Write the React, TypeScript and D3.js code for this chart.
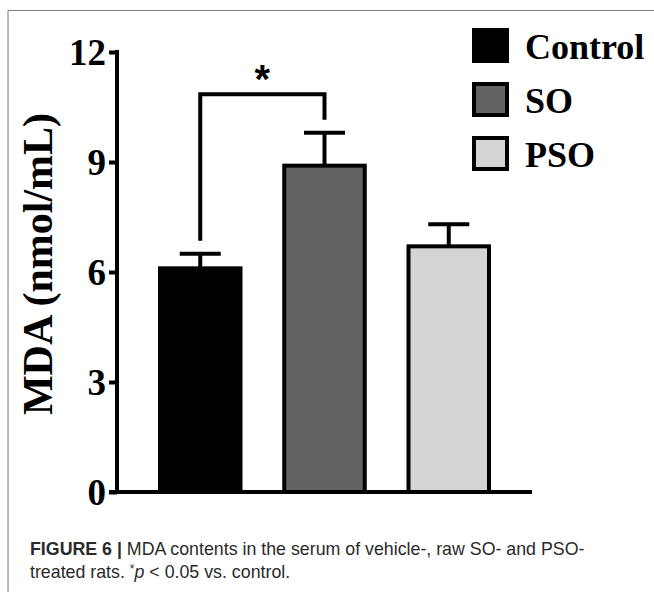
import React, { useRef, useEffect } from 'react';
import { select, scaleBand, scaleLinear, axisLeft } from 'd3';

const groups = ['Control', 'SO', 'PSO'];
const means = [6.1, 8.9, 6.7];
const upper = [6.5, 9.8, 7.3];
const fills = ['#000000', '#636363', '#d4d4d4'];
const yTicks = [0, 3, 6, 9, 12];
// significance bracket: Control vs SO, left foot / right foot / top
const bracket = { from: 0, to: 1, leftEnd: 6.85, rightEnd: 10.15, top: 10.85 };

const SERIF = '"Liberation Serif", "Times New Roman", serif';
const SANS = '"Liberation Sans", Arial, sans-serif';

const App = () => {
  const svgRef = useRef<SVGSVGElement>(null);

  useEffect(() => {
    const svg = select(svgRef.current);
    svg.selectAll('*').remove();

    const x = scaleBand().domain(groups).range([117, 532]).paddingInner(0.32).paddingOuter(0.33);
    const y = scaleLinear().domain([0, 12]).range([492, 52]);

    // frame of the figure (top + left only)
    svg.append('path')
      .attr('d', 'M8,592 V10.5 H654')
      .attr('fill', 'none')
      .attr('stroke', '#7a7a7a')
      .attr('stroke-width', 1);

    // bars
    svg.selectAll('.bar')
      .data(groups)
      .join('rect')
      .attr('class', 'bar')
      .attr('x', d => x(d)! + 2)
      .attr('y', (d, i) => y(means[i]))
      .attr('width', x.bandwidth() - 4)
      .attr('height', (d, i) => y(0) - y(means[i]))
      .attr('fill', (d, i) => fills[i])
      .attr('stroke', '#000')
      .attr('stroke-width', 4);

    // error bars (upper only)
    const err = svg.append('g').attr('stroke', '#000').attr('stroke-width', 4);
    groups.forEach((g, i) => {
      const cx = x(g)! + x.bandwidth() / 2;
      err.append('line').attr('x1', cx).attr('x2', cx).attr('y1', y(means[i])).attr('y2', y(upper[i]));
      err.append('line').attr('x1', cx - 20.5).attr('x2', cx + 20.5).attr('y1', y(upper[i])).attr('y2', y(upper[i]));
    });

    // y axis
    const yAxis = axisLeft(y).tickValues(yTicks).tickSize(8).tickSizeOuter(0).tickPadding(3);
    const ga = svg.append('g').attr('transform', 'translate(117,0)').call(yAxis);
    ga.select('.domain').attr('stroke-width', 4).attr('d', `M0,${y(12) - 2} V${y(0) + 2}`);
    ga.selectAll('.tick line').attr('stroke-width', 4);
    ga.selectAll('.tick text')
      .attr('font-family', SERIF)
      .attr('font-weight', 'bold')
      .attr('font-size', 37)
      .attr('fill', '#000')
      .attr('dy', '0.34em');

    // x axis baseline
    svg.append('line')
      .attr('x1', 109).attr('x2', 532)
      .attr('y1', y(0)).attr('y2', y(0))
      .attr('stroke', '#000').attr('stroke-width', 4);

    // y axis title
    svg.append('text')
      .attr('transform', `translate(52,${(y(0) + y(12)) / 2 - 8}) rotate(-90)`)
      .attr('text-anchor', 'middle')
      .attr('font-family', SERIF)
      .attr('font-weight', 'bold')
      .attr('font-size', 42)
      .text('MDA (nmol/mL)');

    // significance bracket
    const bx1 = x(groups[bracket.from])! + x.bandwidth() / 2;
    const bx2 = x(groups[bracket.to])! + x.bandwidth() / 2;
    svg.append('path')
      .attr('d', `M${bx1},${y(bracket.leftEnd)} V${y(bracket.top)} H${bx2} V${y(bracket.rightEnd)}`)
      .attr('fill', 'none')
      .attr('stroke', '#000')
      .attr('stroke-width', 4);
    svg.append('text')
      .attr('x', (bx1 + bx2) / 2)
      .attr('y', y(bracket.top) - 1)
      .attr('text-anchor', 'middle')
      .attr('font-family', SANS)
      .attr('font-weight', 'bold')
      .attr('font-size', 40)
      .text('*');

    // legend
    const lg = svg.append('g').attr('transform', 'translate(474,30)');
    groups.forEach((g, i) => {
      lg.append('rect')
        .attr('x', 0).attr('y', i * 54)
        .attr('width', 33).attr('height', 31)
        .attr('fill', fills[i])
        .attr('stroke', '#000')
        .attr('stroke-width', 4);
      lg.append('text')
        .attr('x', 51).attr('y', i * 54 + 29)
        .attr('font-family', SERIF)
        .attr('font-weight', 'bold')
        .attr('font-size', 36)
        .text(g);
    });

    // caption
    const cap = svg.append('g').attr('font-family', SANS).attr('font-size', 17.8).attr('fill', '#2a2a2a');
    const l1 = cap.append('text').attr('x', 30).attr('y', 555);
    l1.append('tspan').attr('font-weight', 'bold').text('FIGURE 6 | ');
    l1.append('tspan').text('MDA contents in the serum of vehicle-, raw SO- and PSO-');
    const l2 = cap.append('text').attr('x', 30).attr('y', 578);
    l2.append('tspan').text('treated rats. ');
    l2.append('tspan').attr('font-size', 12).attr('dy', -5).text('*');
    l2.append('tspan').attr('font-style', 'italic').attr('dy', 5).text('p');
    l2.append('tspan').text(' < 0.05 vs. control.');
  }, []);

  return (
    <svg
      ref={svgRef}
      width={654}
      height={592}
      style={{ position: 'absolute', left: 0, top: 0, background: '#fff' }}
    />
  );
};

export default App;
